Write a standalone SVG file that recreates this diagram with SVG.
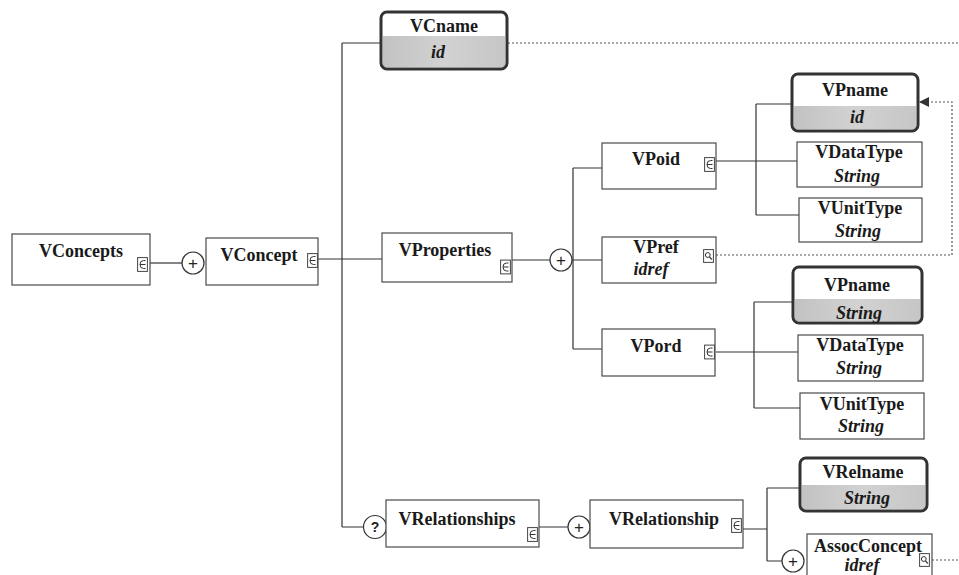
<svg xmlns="http://www.w3.org/2000/svg" xmlns:xlink="http://www.w3.org/1999/xlink" width="959" height="575" viewBox="0 0 959 575">
<style>
.box{fill:#fff;stroke:#4a4a4a;stroke-width:1.2}
.tbox{fill:none;stroke:#333;stroke-width:3}
.gray{fill:url(#gr)}
.lbl{font-family:"Liberation Serif",serif;font-weight:bold;font-size:18px;fill:#1a1a1a;text-anchor:middle}
.typ{font-style:italic}
.ln{stroke:#333;stroke-width:1.2;fill:none}
.dot{stroke:#555;stroke-width:1.2;stroke-dasharray:2 2;fill:none}
.cmp{fill:#fff;stroke:#333;stroke-width:1.2}
.sym{font-family:"Liberation Sans",sans-serif;font-size:17px;fill:#222;text-anchor:middle}
.q{font-family:"Liberation Sans",sans-serif;font-weight:bold;font-size:14px;fill:#222;text-anchor:middle}
</style>
<defs>
<linearGradient id="gr" x1="0" y1="0" x2="1" y2="0">
<stop offset="0" stop-color="#c2c2c2"/>
<stop offset="0.5" stop-color="#d2d2d2"/>
<stop offset="1" stop-color="#c6c6c6"/>
</linearGradient>
<symbol id="tree" viewBox="0 0 11 15">
<rect x="0.6" y="0.6" width="9.8" height="13.8" fill="#fff" stroke="#444" stroke-width="1"/>
<path d="M8.5 3.5 H6.5 Q3 3.5 3 7.5 Q3 11.5 6.5 11.5 H8.5 M3 7.5 H8.5" fill="none" stroke="#333" stroke-width="1"/>
</symbol>
<symbol id="ref" viewBox="0 0 11 14">
<rect x="0.6" y="0.6" width="9.8" height="12.8" fill="#fff" stroke="#444" stroke-width="1"/>
<circle cx="4.8" cy="6" r="2.4" fill="none" stroke="#333" stroke-width="1"/>
<path d="M6.5 7.8 L8.8 10.5" stroke="#333" stroke-width="1.2"/>
</symbol>
<marker id="arr" markerWidth="10" markerHeight="10" refX="9" refY="5" orient="auto" markerUnits="userSpaceOnUse">
<path d="M0 0 L10 5 L0 10 Z" fill="#333"/>
</marker>
</defs>

<g id="connectors">
<path class="ln" d="M150 263 H182"/>
<path class="ln" d="M318 259 H342 M342 43 V527 M342 43 H381 M342 259 H382 M342 527 H364"/>
<path class="ln" d="M512 260 H550 M573 168 V349 M572 260 H602 M573 168 H602 M573 349 H602"/>
<path class="ln" d="M716 161 H797 M756 104 V215 M756 104 H792 M756 215 H799"/>
<path class="ln" d="M716 352 H798 M754 302 V408 M754 302 H793 M754 408 H800"/>
<path class="ln" d="M539 527 H568 M743 529 H767 M767 488 V561 M767 488 H800 M767 561 H782"/>
<path class="dot" d="M508 43 H959"/>
<path class="dot" d="M716 255 H952 V102 H920" marker-end="url(#arr)"/>
<path class="dot" d="M932 560 H959"/>
<g id="comp-seq1"><circle class="cmp" cx="193" cy="263" r="11"/><text class="sym" x="193" y="269">+</text></g>
<g id="comp-opt"><circle class="cmp" cx="375" cy="527" r="11.5"/><text class="q" x="375" y="532">?</text></g>
<g id="comp-seq2"><circle class="cmp" cx="561" cy="260" r="11"/><text class="sym" x="561" y="266">+</text></g>
<g id="comp-seq3"><circle class="cmp" cx="579" cy="527" r="11"/><text class="sym" x="579" y="533">+</text></g>
<g id="comp-seq4"><circle class="cmp" cx="793" cy="561" r="11"/><text class="sym" x="793" y="567">+</text></g>
</g>

<g id="VConcepts">
<rect class="box" x="12" y="234" width="138" height="51"/>
<text class="lbl" x="81" y="257">VConcepts</text>
<use href="#tree" x="137" y="257" width="11" height="15"/>
</g>

<g id="VConcept">
<rect class="box" x="206" y="238" width="112" height="47"/>
<text class="lbl" x="259" y="261">VConcept</text>
<use href="#tree" x="307" y="253" width="11" height="15"/>
</g>

<g id="VCname">
<rect x="381" y="12" width="126" height="57" rx="6" fill="#fff"/>
<rect class="gray" x="383" y="36" width="122" height="31"/>
<rect class="tbox" x="381" y="12" width="126" height="57" rx="6"/>
<text class="lbl" x="444" y="32">VCname</text>
<text class="lbl typ" x="438" y="58">id</text>
</g>

<g id="VProperties">
<rect class="box" x="382" y="233" width="130" height="49"/>
<text class="lbl" x="445" y="256">VProperties</text>
<use href="#tree" x="500" y="259" width="11" height="16"/>
</g>

<g id="VPoid">
<rect class="box" x="602" y="143" width="114" height="46"/>
<text class="lbl" x="656" y="165">VPoid</text>
<use href="#tree" x="704" y="157" width="11" height="15"/>
</g>

<g id="VPref">
<rect x="602" y="237" width="114" height="46" fill="#fff"/>
<rect class="gray" x="602" y="257" width="114" height="26"/>
<rect class="box" x="602" y="237" width="114" height="46" fill="none"/>
<text class="lbl" x="656" y="253">VPref</text>
<text class="lbl typ" x="651" y="275">idref</text>
<use href="#ref" x="703" y="249" width="11" height="14"/>
</g>

<g id="VPord">
<rect class="box" x="602" y="329" width="113" height="47"/>
<text class="lbl" x="656" y="352">VPord</text>
<use href="#tree" x="704" y="344" width="11" height="16"/>
</g>

<g id="VPname1">
<rect x="792" y="74" width="126" height="57" rx="6" fill="#fff"/>
<rect class="gray" x="794" y="106" width="122" height="23"/>
<rect class="tbox" x="792" y="74" width="126" height="57" rx="6"/>
<text class="lbl" x="855" y="96">VPname</text>
<text class="lbl typ" x="857" y="123">id</text>
</g>

<g id="VDataType1">
<rect x="797" y="142" width="125" height="45" fill="#fff"/>
<rect class="gray" x="797" y="165" width="125" height="22"/>
<rect class="box" x="797" y="142" width="125" height="45" fill="none"/>
<text class="lbl" x="859" y="158">VDataType</text>
<text class="lbl typ" x="857" y="182">String</text>
</g>

<g id="VUnitType1">
<rect x="799" y="198" width="123" height="44" fill="#fff"/>
<rect class="gray" x="799" y="218" width="123" height="24"/>
<rect class="box" x="799" y="198" width="123" height="44" fill="none"/>
<text class="lbl" x="860" y="214">VUnitType</text>
<text class="lbl typ" x="858" y="237">String</text>
</g>

<g id="VPname2">
<rect x="793" y="267" width="129" height="56" rx="6" fill="#fff"/>
<rect class="gray" x="795" y="299" width="125" height="22"/>
<rect class="tbox" x="793" y="267" width="129" height="56" rx="6"/>
<text class="lbl" x="857" y="291">VPname</text>
<text class="lbl typ" x="859" y="319">String</text>
</g>

<g id="VDataType2">
<rect x="798" y="335" width="125" height="46" fill="#fff"/>
<rect class="gray" x="798" y="356" width="125" height="25"/>
<rect class="box" x="798" y="335" width="125" height="46" fill="none"/>
<text class="lbl" x="860" y="351">VDataType</text>
<text class="lbl typ" x="859" y="374">String</text>
</g>

<g id="VUnitType2">
<rect x="800" y="393" width="124" height="46" fill="#fff"/>
<rect class="gray" x="800" y="415" width="124" height="24"/>
<rect class="box" x="800" y="393" width="124" height="46" fill="none"/>
<text class="lbl" x="862" y="410">VUnitType</text>
<text class="lbl typ" x="861" y="432">String</text>
</g>

<g id="VRelationships">
<rect class="box" x="386" y="500" width="153" height="47"/>
<text class="lbl" x="457" y="525">VRelationships</text>
<use href="#tree" x="527" y="527" width="11" height="15"/>
</g>

<g id="VRelationship">
<rect class="box" x="590" y="500" width="153" height="48"/>
<text class="lbl" x="664" y="525">VRelationship</text>
<use href="#tree" x="731" y="518" width="11" height="15"/>
</g>

<g id="VRelname">
<rect x="800" y="458" width="127" height="53" rx="6" fill="#fff"/>
<rect class="gray" x="802" y="485" width="123" height="24"/>
<rect class="tbox" x="800" y="458" width="127" height="53" rx="6"/>
<text class="lbl" x="863" y="478">VRelname</text>
<text class="lbl typ" x="867" y="504">String</text>
</g>

<g id="AssocConcept">
<rect x="807" y="534" width="125" height="46" fill="#fff"/>
<rect class="gray" x="807" y="556" width="125" height="24"/>
<rect class="box" x="807" y="534" width="125" height="46" fill="none"/>
<text class="lbl" x="868" y="552">AssocConcept</text>
<text class="lbl typ" x="862" y="571">idref</text>
<use href="#ref" x="919" y="553" width="11" height="14"/>
</g>
</svg>
